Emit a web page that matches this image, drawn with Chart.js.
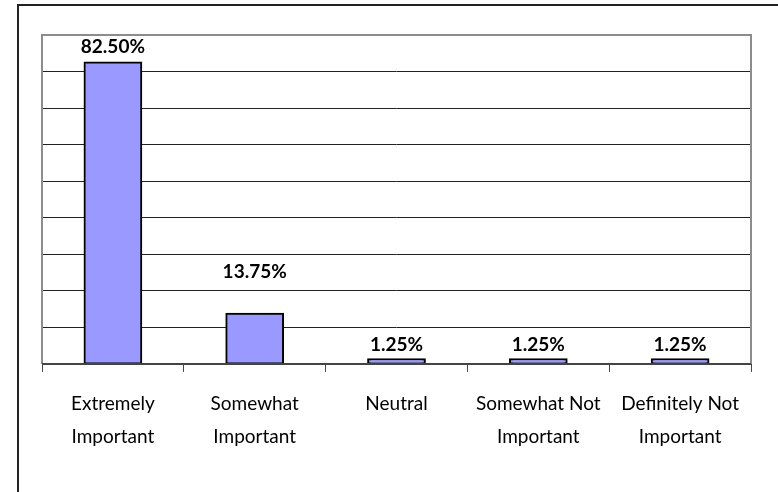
<!DOCTYPE html>
<html>
<head>
<meta charset="utf-8">
<script src="https://cdn.jsdelivr.net/npm/chart.js@4.4.1/dist/chart.umd.min.js"></script>
<style>
  html, body { margin: 0; padding: 0; background: #fff; }
  #wrap { position: relative; width: 778px; height: 492px; overflow: hidden; }
  #frame { position: absolute; left: 17px; top: 4px; width: 800px; height: 600px;
           border-left: 2px solid #222; border-top: 2px solid #222; }
  canvas { position: absolute; left: 0; top: 0; }
</style>
</head>
<body>
<div id="wrap">
  <div id="frame"></div>
  <canvas id="chart" width="778" height="492"></canvas>
</div>
<script>
// Categories and values (percent)
const categories = [
  ["Extremely", "Important"],
  ["Somewhat", "Important"],
  ["Neutral"],
  ["Somewhat Not", "Important"],
  ["Definitely Not", "Important"]
];
const values = [82.5, 13.75, 1.25, 1.25, 1.25];
const valueLabels = ["82.50%", "13.75%", "1.25%", "1.25%", "1.25%"];

const fontFamily = "Lato, 'Open Sans', sans-serif";

// Draws the gray plot frame and the value labels above each bar
const plotFrame = {
  id: "plotFrame",
  afterDatasetsDraw(chart, args, opts) {
    const { ctx, chartArea: a } = chart;
    ctx.save();
    ctx.strokeStyle = "#8c8c8c";
    ctx.lineWidth = 2;
    ctx.beginPath();
    ctx.moveTo(a.left, a.bottom);
    ctx.lineTo(a.left, a.top);
    ctx.lineTo(a.right, a.top);
    ctx.lineTo(a.right, a.bottom);
    ctx.stroke();
    ctx.strokeStyle = "#444";
    ctx.beginPath();
    ctx.moveTo(a.left, a.bottom);
    ctx.lineTo(a.right, a.bottom);
    ctx.stroke();

    ctx.fillStyle = "#000";
    ctx.font = "bold 19px " + fontFamily;
    ctx.textAlign = "center";
    ctx.textBaseline = "alphabetic";
    const meta = chart.getDatasetMeta(0);
    meta.data.forEach((bar, i) => {
      const lift = opts.lift[i] || 0;
      ctx.fillText(valueLabels[i], bar.x, bar.y - 8 - lift);
    });
    ctx.restore();
  }
};

new Chart(document.getElementById("chart"), {
  type: "bar",
  data: {
    labels: categories,
    datasets: [{
      data: values,
      backgroundColor: "#9999ff",
      borderColor: "#000",
      borderWidth: 2,
      borderSkipped: false,
      inflateAmount: 1,
      barPercentage: 0.4,
      categoryPercentage: 1
    }]
  },
  options: {
    responsive: false,
    animation: false,
    layout: { padding: { left: 42, right: 27, top: 35, bottom: 24 } },
    plugins: {
      legend: { display: false },
      tooltip: { enabled: false },
      plotFrame: { lift: [1, 28, 0, 0, 0] }
    },
    scales: {
      x: {
        grid: { display: true, drawOnChartArea: false, color: "#444", lineWidth: 1, tickLength: 8 },
        border: { display: false },
        ticks: {
          color: "#000",
          padding: 15,
          maxRotation: 0,
          autoSkip: false,
          font: { family: fontFamily, size: 19, lineHeight: 1.74 }
        }
      },
      y: {
        min: 0,
        max: 90,
        ticks: { display: false, stepSize: 10 },
        border: { display: false },
        grid: { color: "#222", lineWidth: 1, drawTicks: false }
      }
    }
  },
  plugins: [plotFrame]
});
</script>
</body>
</html>
